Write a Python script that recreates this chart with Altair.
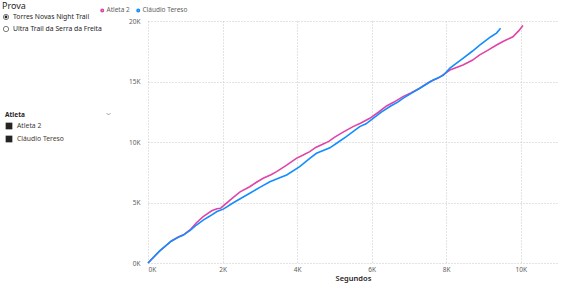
import altair as alt
import pandas as pd

# ---- data ----
a2_seconds = [0, 300, 630, 810, 950, 1150, 1300, 1480, 1710, 1850, 1950, 2200, 2470, 2730, 2900,
              3090, 3300, 3450, 3700, 3980, 4150, 4340, 4500, 4700, 4850, 5000, 5200, 5500, 5700,
              5950, 6200, 6400, 6600, 6840, 7050, 7290, 7560, 7800, 8100, 8450, 8700, 8900, 9100,
              9340, 9550, 9790, 9950, 10060]
a2_meters = [0, 950, 1820, 2150, 2330, 2800, 3330, 3830, 4320, 4480, 4530, 5200, 5880, 6300, 6650,
             7000, 7300, 7550, 8050, 8650, 8900, 9200, 9550, 9830, 10050, 10380, 10750, 11270, 11550,
             11960, 12500, 12980, 13300, 13750, 14050, 14440, 14980, 15300, 15950, 16360, 16750, 17200, 17550,
             18000, 18350, 18700, 19200, 19620]

ct_seconds = [0, 320, 630, 810, 950, 1130, 1300, 1480, 1660, 1850, 2020, 2300, 2730, 3000, 3270,
              3500, 3720, 4070, 4340, 4520, 4700, 4880, 5100, 5320, 5680, 5850, 6040, 6250, 6490,
              6700, 6840, 7050, 7290, 7650, 7920, 8100, 8450, 8700, 8900, 9200, 9350, 9460]
ct_meters = [0, 1020, 1820, 2120, 2310, 2700, 3140, 3550, 3880, 4250, 4450, 5000, 5760, 6250, 6720,
             7000, 7270, 7960, 8650, 9070, 9300, 9520, 9980, 10440, 11270, 11500, 11960, 12450, 12930,
             13300, 13600, 14000, 14440, 15120, 15500, 16100, 16920, 17500, 18000, 18700, 19000, 19400]

athletes = ["Atleta 2", "Cláudio Tereso"]
colors = ["#E044A7", "#118DFF"]
x_ticks = [0, 2000, 4000, 6000, 8000, 10000]
y_ticks = [0, 5000, 10000, 15000, 20000]
provas = ["Torres Novas Night Trail", "Ultra Trail da Serra da Freita"]

df = pd.concat([
    pd.DataFrame({"Segundos": a2_seconds, "Distancia": a2_meters, "Atleta": athletes[0], "o": range(len(a2_seconds))}),
    pd.DataFrame({"Segundos": ct_seconds, "Distancia": ct_meters, "Atleta": athletes[1], "o": range(len(ct_seconds))}),
])

FONT = "Noto Sans"
DARK = "#252423"
GRAY = "#605E5C"

xenc = alt.X("Segundos:Q", scale=alt.Scale(domain=[0, 11000], nice=False),
             axis=alt.Axis(values=x_ticks, labelExpr="datum.value/1000 + 'K'", title="Segundos",
                           grid=True, gridDash=[1, 2], gridColor="#C8C6C4", domain=False, ticks=False,
                           labelFontSize=6.5, labelColor=GRAY, labelPadding=3, labelFont=FONT,
                           titleFont=FONT, titleFontSize=7.5, titleColor=DARK, titleFontWeight=600,
                           titlePadding=2))
yenc = alt.Y("Distancia:Q", scale=alt.Scale(domain=[0, 20000], nice=False),
             axis=alt.Axis(values=y_ticks, labelExpr="datum.value/1000 + 'K'", title=None,
                           grid=True, gridDash=[1, 2], gridColor="#C8C6C4", domain=False, ticks=False,
                           labelFontSize=6.5, labelColor=GRAY, labelPadding=8, labelFont=FONT))
cscale = alt.Scale(domain=athletes, range=colors)

lines = alt.Chart(df).mark_line().encode(
    x=xenc, y=yenc,
    color=alt.Color("Atleta:N", scale=cscale,
                    legend=alt.Legend(title=None, orient="none", legendX=-49, legendY=-14,
                                      direction="horizontal", symbolType="circle", symbolSize=6,
                                      symbolStrokeWidth=4,
                                      labelFontSize=6.5, labelColor=GRAY, labelFont=FONT,
                                      columnPadding=3, labelOffset=1)),
    order="o:Q",
)

def txt(t, x, y, size=6.8, color=DARK, weight="normal"):
    return alt.Chart(pd.DataFrame({"t": [t]})).mark_text(
        align="left", baseline="middle", fontSize=size, color=color, font=FONT, fontWeight=weight
    ).encode(text="t:N", x=alt.value(x - 148), y=alt.value(y - 21))

def dot(x, y, filled, shape="circle", size=30, color=DARK):
    return alt.Chart(pd.DataFrame({"a": [0]})).mark_point(
        shape=shape, filled=filled, size=size, color=color, opacity=1, strokeWidth=0.8
    ).encode(x=alt.value(x - 148), y=alt.value(y - 21))

panel = [
    txt("Prova", 2, 6, size=9, color=DARK),
    dot(6, 17, False, size=28, color="#605E5C"),
    dot(6, 17, True, size=8, color=DARK),
    txt(provas[0], 13, 17),
    dot(6, 29, False, size=28, color="#605E5C"),
    txt(provas[1], 13, 29),
    txt("Atleta", 5, 115, size=6.5, weight="bold"),
    dot(108.5, 114, False, shape="M-1,-0.5L0,0.5L1,-0.5", size=16, color="#8A8886"),
    dot(9, 126, True, shape="square", size=45, color=DARK),
    txt(athletes[0], 17, 126, color="#3B3A39"),
    dot(9, 139, True, shape="square", size=45, color=DARK),
    txt(athletes[1], 17, 139, color="#4A3A30"),
]

chart = alt.layer(lines, *panel).properties(
    width=410, height=242,
    autosize=alt.AutoSizeParams(type="none"),
    padding={"left": 148, "top": 21, "right": 9, "bottom": 23},
    background="white",
).configure_view(stroke=None).configure_line(strokeWidth=1.6)

chart.save("out.html", embed_options={"renderer": "svg", "actions": False})
